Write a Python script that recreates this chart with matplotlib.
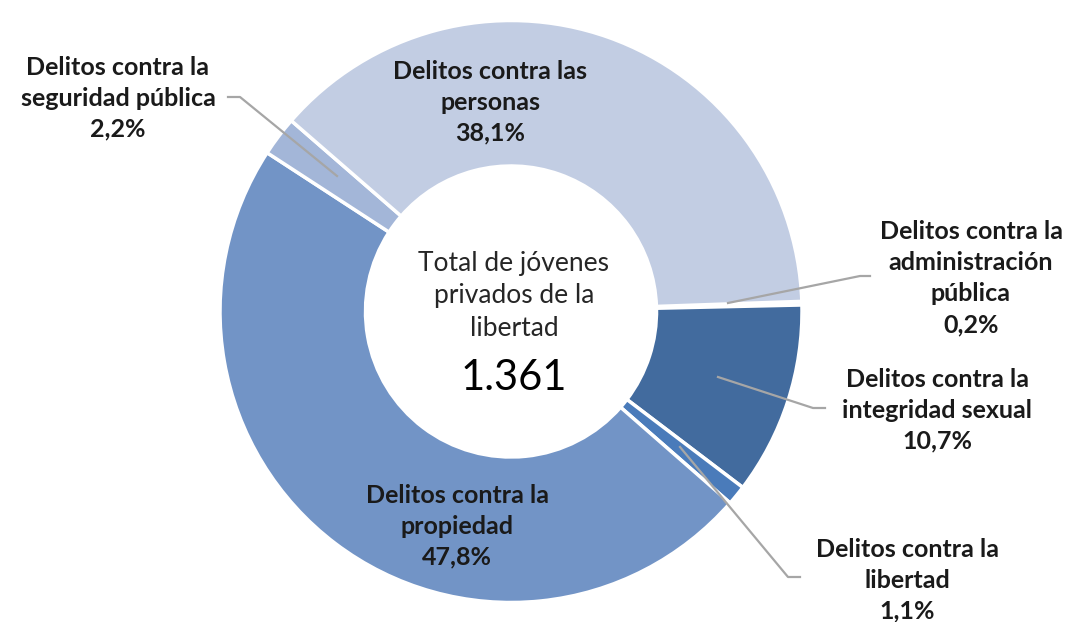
import matplotlib.pyplot as plt

# delitos de jóvenes privados de la libertad
categorias = ['Delitos contra la\nadministración\npública',
              'Delitos contra la\nintegridad sexual',
              'Delitos contra la\nlibertad',
              'Delitos contra la\npropiedad',
              'Delitos contra la\nseguridad pública',
              'Delitos contra las\npersonas']
porcentajes = [0.2, 10.7, 1.1, 47.8, 2.2, 38.1]
colores = ['#E4E9F3', '#426B9E', '#4A7BBA', '#7294C6', '#A3B6D8', '#C2CDE3']
total = '1.361'

plt.rcParams['font.family'] = ['Lato', 'DejaVu Sans']

fig = plt.figure(figsize=(10.74, 6.22), dpi=100)
ax = fig.add_axes([0, 0, 1, 1])
ax.set_aspect('equal')
ax.axis('off')

cx, cy, r = 511, 622 - 311.5, 291
ax.pie(porcentajes, colors=colores, startangle=2, counterclock=False,
       center=(cx, cy), radius=r,
       wedgeprops=dict(width=r * 0.5, edgecolor='white', linewidth=2.5))
ax.set_xlim(0, 1074)
ax.set_ylim(0, 622)

def Y(y):
    return 622 - y

# etiquetas: (texto x, texto y, puntos de la línea guía)
etiquetas = [
    (971, 278, [(870, 276), (860, 276), (728, 303)]),
    (937, 410, [(825, 408), (813, 408), (718, 377)]),
    (907, 580, [(800, 577), (788, 577), (680, 447)]),
    (457, 526, None),
    (118, 98, [(228, 97), (240, 97), (337, 176)]),
    (490, 102, None),
]

for cat, pct, (tx, ty, guia) in zip(categorias, porcentajes, etiquetas):
    texto = cat + '\n' + f'{pct:.1f}%'.replace('.', ',')
    ax.text(tx, Y(ty), texto, ha='center', va='center', fontsize=18,
            fontweight='bold', color='#1a1a1a', linespacing=1.42)
    if guia:
        ax.plot([p[0] for p in guia], [Y(p[1]) for p in guia],
                color='#A6A6A6', lw=1.6)

ax.text(514, Y(296), 'Total de jóvenes\nprivados de la\nlibertad', ha='center',
        va='center', fontsize=19, color='#262626', linespacing=1.38)
ax.text(514, Y(378), total, ha='center', va='center', fontsize=30,
        color='black')

plt.savefig('out.png', dpi=100)
